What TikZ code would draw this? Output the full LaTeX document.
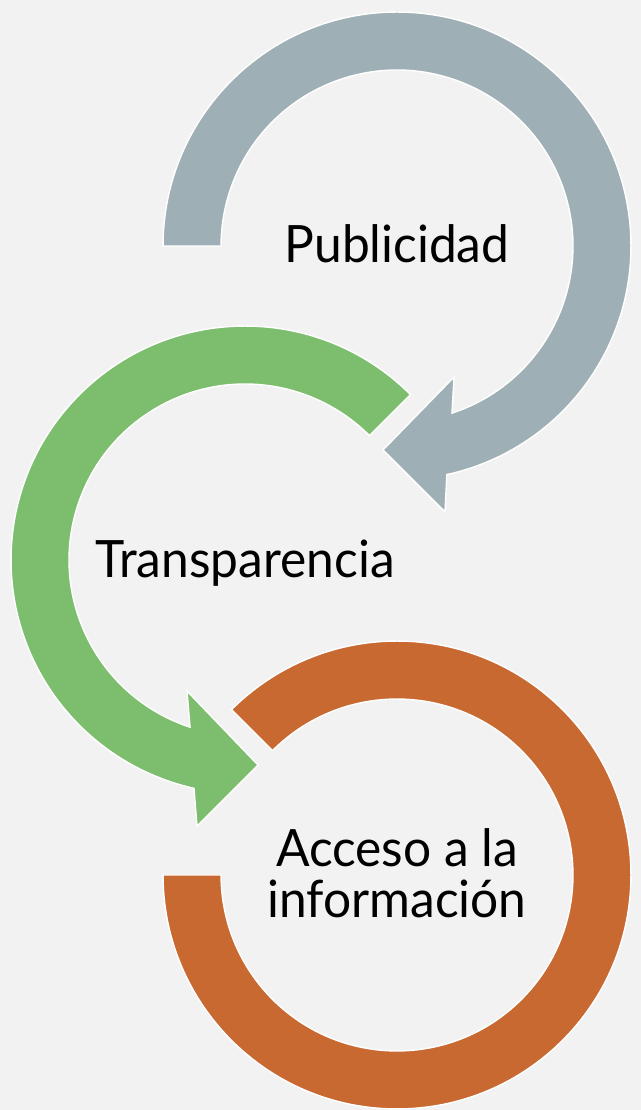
\documentclass[tikz,border=0pt]{standalone}
\usepackage{fontspec}
\setmainfont[FakeStretch=0.965]{Lato}
\definecolor{bgc}{HTML}{F2F2F2}
\definecolor{grayarc}{HTML}{9EB0B5}
\definecolor{greenarc}{HTML}{7DBE6E}
\definecolor{orangearc}{HTML}{C96932}
\tikzset{
  ring/.style={draw=white, line width=0.8pt, line join=miter},
  lbl/.style={inner sep=0pt, text=black, font=\fontsize{29.3}{35}\selectfont, anchor=base}
}
\begin{document}
\begin{tikzpicture}[x=0.02cm,y=0.02cm]
\fill[bgc] (0,0) rectangle (641,1110);
\useasboundingbox (0,0) rectangle (641,1110);
\coordinate (cg) at (397,864);
\coordinate (cr) at (245,550);
\coordinate (co) at (397,235);
% gray arrow
\path[ring, fill=grayarc] ([shift={(cg)}]180:4.68cm) arc[start angle=180,end angle=-77.7,radius=4.68cm]
  -- (445,598) -- (383,660) -- (454,733)
  -- ([shift={(cg)}]-71.8:3.52cm) arc[start angle=-71.8,end angle=180,radius=3.52cm] -- cycle;
% green arrow
\path[ring, fill=greenarc] ([shift={(cr)}]45:4.68cm) arc[start angle=45,end angle=257.4,radius=4.68cm]
  -- (197,284) -- (258,345) -- (187,419)
  -- ([shift={(cr)}]251.8:3.52cm) arc[start angle=251.8,end angle=45,radius=3.52cm] -- cycle;
% orange ring
\path[ring, fill=orangearc] ([shift={(co)}]180:4.68cm) arc[start angle=180,end angle=495,radius=4.68cm]
  -- ([shift={(co)}]135:3.52cm) arc[start angle=495,end angle=180,radius=3.52cm] -- cycle;
% labels
\node[lbl] (pub) at (397,847) {Publicidad};
\node[lbl] (tra) at (245,532) {Transparencia};
\node[lbl] (acc1) at (397,243) {Acceso a la};
\node[lbl] (acc2) at (397,192) {información};
\end{tikzpicture}
\end{document}
